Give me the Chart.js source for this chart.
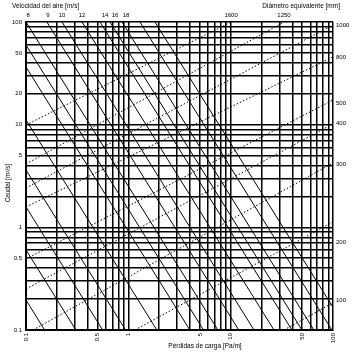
<!DOCTYPE html>
<html>
<head>
<meta charset="utf-8">
<script src="https://cdn.jsdelivr.net/npm/chart.js@4.4.1/dist/chart.umd.min.js"></script>
<style>
  html, body { margin: 0; padding: 0; background: #fff; }
</style>
</head>
<body>
<canvas id="nomo" width="352" height="355"></canvas>
<script>
// Velocidad del aire lines: [Pa/m, m3/s] where each solid diagonal enters and leaves
const velocityFrom = [[0.1, 59.7], [0.1, 36.5], [0.1, 11.1], [0.1, 3.62], [0.1, 1.58], [0.1, 0.603], [0.1, 0.196],
    [0.1, 100], [0.16, 100], [0.225, 100], [0.353, 100], [0.529, 100], [0.662, 100], [0.868, 100], [1.3, 100], [1.82, 100]];
const velocityTo = [[5.43, 0.1], [3.99, 0.1], [1.9, 0.1], [0.94, 0.1], [0.561, 0.1], [0.307, 0.1], [0.152, 0.1],
    [7.5, 0.1], [12, 0.1], [16.9, 0.1], [26.5, 0.1], [39.7, 0.1], [49.7, 0.1], [65, 0.1], [97.5, 0.1], [100, 0.166]];

// Diametro equivalente lines (dotted)
const diameterFrom = [[0.1, 9.93], [0.1, 4.14], [0.1, 2.42], [0.1, 1.58], [0.1, 0.492], [0.1, 0.251], [0.117, 0.1], [1.16, 0.1], [33.2, 0.1]];
const diameterTo = [[10.1, 100], [33.2, 100], [100, 93.5], [100, 45.6], [100, 17.4], [100, 10.2], [100, 4.24], [100, 1.13], [100, 0.184]];

// labels
const velLabels = ['8', '9', '10', '12', '14', '16', '18'];
const velLabelAt = [0.105, 0.164, 0.225, 0.353, 0.592, 0.741, 0.949];
const diaTopLabels = ['1600', '1250'];
const diaTopAt = [10.1, 33.2];
const diaRightLabels = ['1000', '800', '500', '400', '300', '200', '100'];
const diaRightAt = [93.5, 45.6, 16, 10.2, 4.14, 0.72, 0.196];
const xTickLabels = [0.1, 0.5, 1, 5, 10, 50, 100];
const yTickLabels = [100, 50, 20, 10, 5, 1, 0.5, 0.1];

// log grid 1..9 per decade
var gridVals = [];
[-1, 0, 1].forEach(function (e) {
    for (var k = 1; k < 10; k++) gridVals.push(Number((k * Math.pow(10, e)).toPrecision(3)));
});
gridVals.push(100);

var datasets = [];
velocityFrom.forEach(function (p, i) {
    datasets.push({
        data: [{ x: p[0], y: p[1] }, { x: velocityTo[i][0], y: velocityTo[i][1] }],
        borderColor: '#000', borderWidth: 1, showLine: true, pointRadius: 0
    });
});
diameterFrom.forEach(function (p, i) {
    datasets.push({
        data: [{ x: p[0], y: p[1] }, { x: diameterTo[i][0], y: diameterTo[i][1] }],
        borderColor: '#000', borderWidth: 1, borderDash: [1.5, 2], showLine: true, pointRadius: 0
    });
});

function logAxis() {
    return {
        type: 'logarithmic', min: 0.1, max: 100,
        afterBuildTicks: function (scale) {
            scale.ticks = gridVals.map(function (v) { return { value: v }; });
        },
        ticks: { display: false, autoSkip: false },
        grid: { color: '#000', lineWidth: 1.5, drawTicks: false },
        border: { display: true, color: '#000', width: 2 }
    };
}

// all texts drawn after the chart
var labelPlugin = {
    id: 'nomoLabels',
    afterDraw: function (chart) {
        var ctx = chart.ctx, a = chart.chartArea, x = chart.scales.x, y = chart.scales.y;
        ctx.save();
        ctx.fillStyle = '#000';
        ctx.font = '6px "Liberation Sans", sans-serif';
        ctx.textBaseline = 'middle';

        ctx.textAlign = 'right';
        yTickLabels.forEach(function (v) { ctx.fillText(String(v), a.left - 4, y.getPixelForValue(v)); });

        xTickLabels.forEach(function (v) {
            ctx.save();
            ctx.translate(x.getPixelForValue(v), a.bottom + 3);
            ctx.rotate(-Math.PI / 2);
            ctx.textAlign = 'right';
            ctx.fillText(String(v), 0, 0);
            ctx.restore();
        });

        ctx.textAlign = 'center';
        velLabels.forEach(function (t, i) { ctx.fillText(t, x.getPixelForValue(velLabelAt[i]), a.top - 7); });
        diaTopLabels.forEach(function (t, i) { ctx.fillText(t, x.getPixelForValue(diaTopAt[i]), a.top - 7); });

        ctx.textAlign = 'left';
        diaRightLabels.forEach(function (t, i) { ctx.fillText(t, a.right + 3, y.getPixelForValue(diaRightAt[i])); });

        ctx.font = '6.5px "Liberation Sans", sans-serif';
        ctx.fillText('Velocidad del aire [m/s]', 12, 6);
        ctx.textAlign = 'right';
        ctx.fillText('Diámetro equivalente [mm]', 340, 6);
        ctx.textAlign = 'center';
        ctx.fillText('Pérdidas de carga [Pa/m]', 205, 346);

        ctx.save();
        ctx.translate(8, 183);
        ctx.rotate(-Math.PI / 2);
        ctx.fillText('Caudal [m³/s]', 0, 0);
        ctx.restore();
        ctx.restore();
    }
};

var ctx = document.getElementById('nomo').getContext('2d');
var nomo = new Chart(ctx, {
    type: 'scatter',
    data: { datasets: datasets },
    options: {
        responsive: false,
        animation: false,
        devicePixelRatio: 1,
        layout: { padding: { left: 26, right: 19, top: 22, bottom: 25 } },
        plugins: { legend: { display: false }, tooltip: { enabled: false } },
        scales: { x: logAxis(), y: logAxis() }
    },
    plugins: [labelPlugin]
});
</script>
</body>
</html>
